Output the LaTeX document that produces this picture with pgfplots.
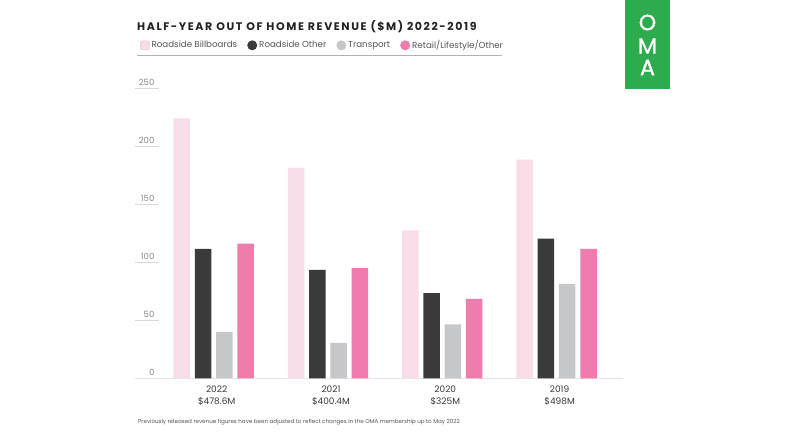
\documentclass[border=0pt]{standalone}
\usepackage{fontspec}
\setmainfont{Poppins}
\usepackage{pgfplots}
\pgfplotsset{compat=1.18}
\definecolor{bbpink}{HTML}{F8DDE9}
\definecolor{bbedge}{HTML}{EBC3D5}
\definecolor{rodark}{HTML}{3A3A3A}
\definecolor{trgrey}{HTML}{C5C7C9}
\definecolor{rtpink}{HTML}{EE7DAD}
\definecolor{omagreen}{HTML}{2EAA4F}
\definecolor{titletext}{HTML}{222222}
\definecolor{legtext}{HTML}{555555}
\definecolor{ticktext}{HTML}{888888}
\definecolor{xtext}{HTML}{3A3A3A}
\begin{document}
\begin{tikzpicture}[x=1pt,y=1pt]
\useasboundingbox[fill=white] (0,0) rectangle (800,434);
% OMA logo
\fill[omagreen] (625,345) rectangle (670,434);
\node[white, inner sep=0, font=\fontsize{22}{22}\selectfont\addfontfeature{FakeBold=1.2}] at (647.5,411.5) {O};
\node[white, inner sep=0, font=\fontsize{22}{22}\selectfont\addfontfeature{FakeBold=1.2}] at (647.5,388) {M};
\node[white, inner sep=0, font=\fontsize{22}{22}\selectfont\addfontfeature{FakeBold=1.2}] at (647.5,366.5) {A};
% title
\node[anchor=base west, inner sep=0, text=titletext,
      font=\fontsize{11}{13}\selectfont\bfseries\addfontfeature{LetterSpace=14.5}]
      at (137,403.3) {HALF-YEAR OUT OF HOME REVENUE (\$M) 2022-2019};
% legend rule
\draw[gray!60, line width=0.6pt] (137,379) -- (502,379);
% footnote
\node[anchor=base west, inner sep=0, text=legtext, font=\fontsize{5.6}{6.5}\selectfont]
      at (138,11) {Previously released revenue figures have been adjusted to reflect changes in the OMA membership up to May 2022.};
\begin{axis}[
  at={(118,48)}, anchor=south west,
  scale only axis, width=488pt, height=299.3pt,
  ybar=4.8pt, bar width=16.5pt,
  xmin=-0.689, xmax=3.58, ymin=0, ymax=258,
  axis x line*=bottom, axis y line*=left,
  y axis line style={draw=none},
  x axis line style={-, draw=gray!20, line width=1pt},
  xtick={0,1,2,3},
  xticklabels={{2022\\\$478.6M},{2021\\\$400.4M},{2020\\\$325M},{2019\\\$498M}},
  xticklabel style={align=center, text=xtext, font=\fontsize{9}{12}\selectfont, xshift=3pt, yshift=-4pt},
  xtick style={draw=none},
  ytick={0,50,100,150,200,250},
  tick align=inside,
  major tick length=24pt,
  ytick style={draw=gray!30, line width=0.6pt},
  yticklabel style={anchor=south east, xshift=23pt, yshift=-1pt, text=ticktext, font=\fontsize{8.5}{10}\selectfont},
  /pgf/number format/assume math mode=true,
  legend style={draw=none, fill=none, at={(axis description cs:0,1)}, anchor=west,
     xshift=2pt, yshift=33.7pt, font=\fontsize{8.7}{10}\selectfont, text=legtext,
     /tikz/every even column/.append style={column sep=8pt}},
  legend columns=4,
  legend cell align=left,
]
\addplot[fill=bbpink, draw=none,
  legend image code/.code={\draw[fill=bbpink, draw=bbedge, line width=0.5pt, rounded corners=1.5pt] (0pt,-4.5pt) rectangle (9pt,4.5pt);}]
  coordinates {(0,224) (1,181.5) (2,127.5) (3,188.5)};
\addlegendentry{Roadside Billboards}
\addplot[fill=rodark, draw=none,
  legend image code/.code={\fill[rodark] (4.5pt,0pt) circle (5pt);}]
  coordinates {(0,111.5) (1,93.5) (2,73.5) (3,120.5)};
\addlegendentry{Roadside Other}
\addplot[fill=trgrey, draw=none,
  legend image code/.code={\fill[trgrey] (4.5pt,0pt) circle (5pt);}]
  coordinates {(0,40) (1,30.5) (2,46.5) (3,81.5)};
\addlegendentry{Transport}
\addplot[fill=rtpink, draw=none,
  legend image code/.code={\fill[rtpink] (4.5pt,0pt) circle (5pt);}]
  coordinates {(0,116) (1,95) (2,68.5) (3,111.5)};
\addlegendentry{Retail/Lifestyle/Other}
\end{axis}
\end{tikzpicture}
\end{document}
